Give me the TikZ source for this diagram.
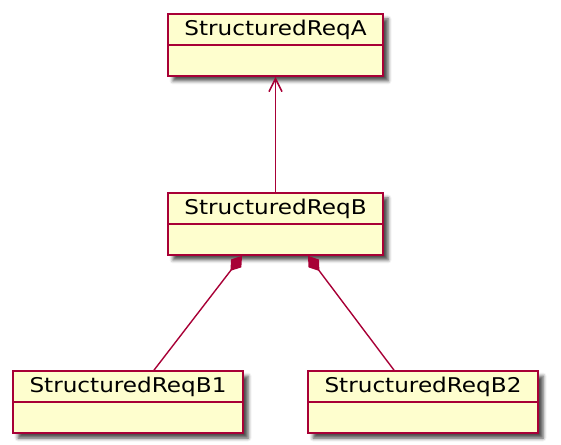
\documentclass[tikz,border=0pt]{standalone}
\usepackage{fontspec}
\setmainfont{DejaVu Sans}
\usetikzlibrary{arrows.meta,shadows.blur,calc}
\definecolor{umlred}{HTML}{A80036}
\definecolor{umlfill}{HTML}{FEFECE}
\tikzset{
  cls/.style={draw=umlred, fill=umlfill, line width=1.7pt, inner sep=0pt,
    minimum height=62pt,
    blur shadow={shadow xshift=5pt, shadow yshift=-5pt, shadow blur radius=3.5pt, shadow opacity=70}},
  clsname/.style={anchor=base, inner sep=0pt, font=\fontsize{20.3}{22}\selectfont, text=black},
  divider/.style={draw=umlred, line width=1.7pt},
  link/.style={draw=umlred, line width=1.4pt},
  inherit/.style={link, -{Straight Barb[length=13pt,width=13pt,line width=1.6pt]}},
  compose/.style={link, {Diamond[length=19pt,width=13pt]}-},
}
\newcommand{\hname}[1]{\scalebox{1.14}[1]{#1}}
\begin{document}
\begin{tikzpicture}[x=1pt,y=1pt]
\useasboundingbox (0,0) rectangle (561,444);
% boxes
\node[cls, minimum width=215pt] (A) at (275.5,399) {};
\node[cls, minimum width=215pt] (B) at (275.5,220) {};
\node[cls, minimum width=230pt] (B1) at (128,42) {};
\node[cls, minimum width=230pt] (B2) at (423,42) {};
% dividers
\draw[divider] ($(A.north west)+(0,-32)$) -- ($(A.north east)+(0,-32)$);
\draw[divider] ($(B.north west)+(0,-32)$) -- ($(B.north east)+(0,-32)$);
\draw[divider] ($(B1.north west)+(0,-32)$) -- ($(B1.north east)+(0,-32)$);
\draw[divider] ($(B2.north west)+(0,-32)$) -- ($(B2.north east)+(0,-32)$);
% names
\node[clsname] (At) at ($(A.north)+(0,-22.5)$) {\hname{StructuredReqA}};
\node[clsname] (Bt) at ($(B.north)+(0,-22.5)$) {\hname{StructuredReqB}};
\node[clsname] (B1t) at ($(B1.north)+(0,-22.5)$) {\hname{StructuredReqB1}};
\node[clsname] (B2t) at ($(B2.north)+(0,-22.5)$) {\hname{StructuredReqB2}};
% connectors
\draw[inherit] (B.north) -- (A.south);
\coordinate (Bl) at ($(B.south)+(-33.5,0)$);
\coordinate (Br) at ($(B.south)+(32.5,0)$);
\coordinate (B1top) at ($(B1.north)+(26,0)$);
\coordinate (B2top) at ($(B2.north)+(-29,0)$);
\draw[compose] (Bl) -- (B1top);
\draw[compose] (Br) -- (B2top);
\end{tikzpicture}
\end{document}
